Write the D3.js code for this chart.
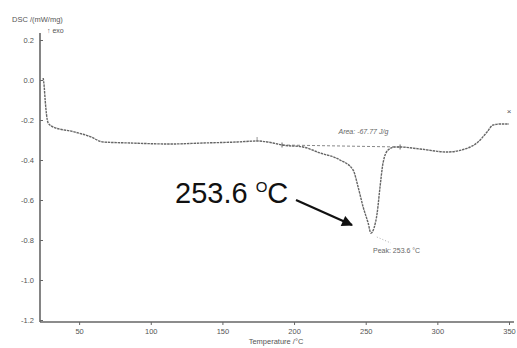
<!DOCTYPE html>
<html><head><meta charset="utf-8">
<script src="https://cdn.jsdelivr.net/npm/d3@7"></script>
<style>html,body{margin:0;padding:0;background:#fff;}svg{display:block;font-family:"Liberation Sans",Arial,sans-serif;}</style>
</head><body>
<svg id="c" width="517" height="348"></svg>
<script>
// Data
const temps = [24.9, 25.6, 26.3, 27.2, 28.4, 31.9, 45.8, 57.7, 66.7, 85.6, 113.5, 136.5, 160.3, 174.2, 185.4, 191.6, 206.3, 218.2, 232.1, 241.2, 244.7, 248.2, 251.7, 253.6, 255.8, 258.0, 260.0, 262.1, 265.6, 270.5, 274.0, 288.0, 306.8, 322.9, 328.4, 334.7, 338.9, 343.8, 350.0];
const dsc   = [0.01, -0.03, -0.10, -0.17, -0.215, -0.235, -0.258, -0.283, -0.31, -0.315, -0.32, -0.315, -0.31, -0.305, -0.315, -0.325, -0.335, -0.365, -0.40, -0.45, -0.535, -0.635, -0.715, -0.765, -0.74, -0.665, -0.535, -0.415, -0.35, -0.335, -0.335, -0.345, -0.36, -0.335, -0.31, -0.26, -0.225, -0.22, -0.22];
const baseT = [191.6, 274.0];
const baseV = [-0.325, -0.335];
const xTicks = [50, 100, 150, 200, 250, 300, 350];
const yTicks = [0.2, 0.0, -0.2, -0.4, -0.6, -0.8, -1.0, -1.2];
const yTickLabels = ["0.2", "0.0", "-0.2", "-0.4", "-0.6", "-0.8", "-1.0", "-1.2"];
const peakT = 253.6, peakV = -0.765;

const svg = d3.select("#c");
const x = d3.scaleLinear().domain([22.7, 350]).range([40, 509]);
const y = d3.scaleLinear().domain([-1.2, 0.2]).range([320, 40]);
const axisY = 322;
const grey = "#666";

// axes lines
svg.append("line").attr("x1", 40).attr("x2", 40).attr("y1", 33).attr("y2", axisY)
  .attr("stroke", grey).attr("stroke-width", 1.6);
svg.append("line").attr("x1", 40).attr("x2", 514).attr("y1", axisY).attr("y2", axisY)
  .attr("stroke", grey).attr("stroke-width", 1.6);

// y axis
const ya = svg.append("g").attr("transform", "translate(40,0)")
  .call(d3.axisLeft(y).tickValues(yTicks).tickSize(-3).tickPadding(6)
    .tickFormat((d, i) => yTickLabels[i]));
ya.select(".domain").remove();
ya.selectAll("line").attr("stroke", grey);
ya.selectAll("text").attr("fill", "#555").style("font-size", "7.5px").attr("font-family", "Liberation Sans, Arial, sans-serif");

// x axis
const xa = svg.append("g").attr("transform", `translate(0,${axisY})`)
  .call(d3.axisBottom(x).tickValues(xTicks).tickSize(3).tickPadding(4));
xa.select(".domain").remove();
xa.selectAll("line").attr("stroke", grey);
xa.selectAll("text").attr("fill", "#555").style("font-size", "7.5px").attr("font-family", "Liberation Sans, Arial, sans-serif");

// titles
svg.append("text").attr("x", 12).attr("y", 22).text("DSC /(mW/mg)")
  .attr("fill", "#555").style("font-size", "7.5px");
svg.append("text").attr("x", 47).attr("y", 33).text("\u2191 exo")
  .attr("fill", "#555").style("font-size", "7px");
svg.append("text").attr("x", 276).attr("y", 344).attr("text-anchor", "middle").text("Temperature /\u00B0C")
  .attr("fill", "#555").style("font-size", "7.5px");

// baseline
const pts = temps.map((t, i) => [t, dsc[i]]);
const line = d3.line().x(d => x(d[0])).y(d => y(d[1])).curve(d3.curveMonotoneX);
svg.append("path").datum(baseT.map((t, i) => [t, baseV[i]]))
  .attr("d", d3.line().x(d => x(d[0])).y(d => y(d[1])))
  .attr("fill", "none").attr("stroke", "#888").attr("stroke-width", 1).attr("stroke-dasharray", "3,2");
// curve
svg.append("path").datum(pts).attr("d", line)
  .attr("fill", "none").attr("stroke", "#666").attr("stroke-width", 1.4).attr("stroke-dasharray", "2.5,0.8");

// small markers
baseT.forEach((t, i) => {
  svg.append("line").attr("x1", x(t)).attr("x2", x(t)).attr("y1", y(baseV[i]) - 2.5).attr("y2", y(baseV[i]) + 2.5)
    .attr("stroke", "#666").attr("stroke-width", 1);
});
svg.append("line").attr("x1", x(174.2)).attr("x2", x(174.2)).attr("y1", y(-0.305) - 4).attr("y2", y(-0.305))
  .attr("stroke", "#777").attr("stroke-width", 0.8);
// end marker
svg.append("text").attr("x", x(350)).attr("y", y(-0.17)).attr("text-anchor", "middle")
  .text("\u00D7").attr("fill", "#555").style("font-size", "8px");

// annotations
svg.append("text").attr("x", x(231)).attr("y", y(-0.27)).text("Area: -67.77 J/g")
  .attr("fill", "#666").style("font-size", "7px").style("font-style", "italic");
svg.append("text").attr("x", 373).attr("y", y(-0.865)).text("Peak: 253.6 \u00B0C")
  .attr("fill", "#666").style("font-size", "7px");
svg.append("line").attr("x1", x(peakT) + 6).attr("x2", x(peakT) + 20).attr("y1", y(peakV) + 4).attr("y2", y(peakV) + 10)
  .attr("stroke", "#999").attr("stroke-width", 0.8).attr("stroke-dasharray", "1,2");

// big label and arrow
const big = svg.append("text").attr("x", 175).attr("y", 203).attr("fill", "#111")
  .style("font-size", "29px");
big.append("tspan").text("253.6 ");
big.append("tspan").text("O").style("font-size", "15px").attr("dy", -11);
big.append("tspan").text("C").attr("dy", 11);

svg.append("defs").append("marker").attr("id", "ah").attr("viewBox", "0 0 10 10")
  .attr("refX", 9).attr("refY", 5).attr("markerWidth", 6).attr("markerHeight", 5)
  .attr("orient", "auto").attr("markerUnits", "strokeWidth")
  .append("path").attr("d", "M0,0 L10,5 L0,10 Z").attr("fill", "#111");
svg.append("line").attr("x1", 296).attr("y1", 200).attr("x2", 352).attr("y2", 225)
  .attr("stroke", "#111").attr("stroke-width", 2.2).attr("marker-end", "url(#ah)");
</script>
</body></html>
